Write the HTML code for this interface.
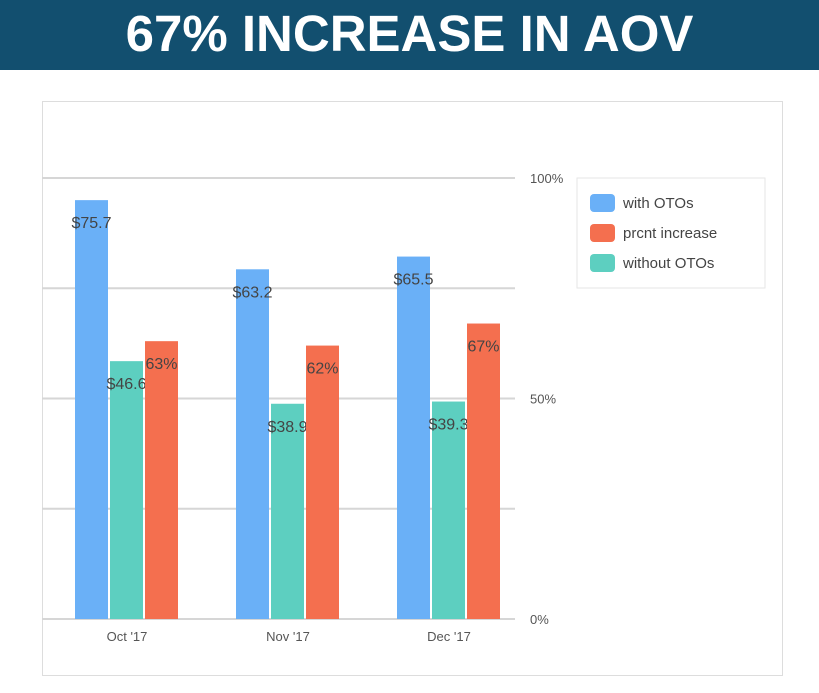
<!DOCTYPE html>
<html><head><meta charset="utf-8"><style>
body{margin:0;width:819px;height:693px;background:#fff;font-family:"Liberation Sans",sans-serif;overflow:hidden}
#hdr{position:absolute;left:0;top:0;width:819px;height:70px;background:#124f6f;color:#fff;font-weight:bold;font-size:51px;text-align:center;line-height:68px}
#panel{position:absolute;left:42px;top:101px;width:741px;height:575px;border:1px solid #ddd;box-sizing:border-box}
svg{position:absolute;left:0;top:0}
</style></head><body>
<div id="hdr">67% INCREASE IN AOV</div>
<div id="panel"></div>
<svg id="chart" width="819" height="693"></svg>
<script>
const categories=["Oct '17","Nov '17","Dec '17"];
const withOTOs=[75.7,63.2,65.5];
const withoutOTOs=[46.6,38.9,39.3];
const prcntIncrease=[63,62,67];
const pctTicks=["0%","50%","100%"];
const pctTickVals=[0,50,100];
const NS="http://www.w3.org/2000/svg";
const svg=document.getElementById('chart');
const y0=619,y100=178,dollarMax=79.7;
const yPct=v=>y0-(y0-y100)*v/100;
const yDol=v=>y0-(y0-y100)*v/dollarMax;
const groupX=i=>75+i*161;
function mk(t,a){const e=document.createElementNS(NS,t);for(const k in a)e.setAttribute(k,a[k]);svg.appendChild(e);return e;}
for(let k=0;k<=4;k++){const g=mk('line',{x1:42,x2:515,y1:yPct(k*25),y2:yPct(k*25),stroke:'#d6d6d6','stroke-width':2});

}
pctTickVals.forEach((v,i)=>{const t=mk('text',{x:530,y:yPct(v)+5,'font-size':13,fill:'#555'});t.textContent=pctTicks[i];

});
const w=33;
function bar(x,top,color,label,name){
const r=mk('rect',{x:x,y:top,width:w,height:y0-top,fill:color});


const t=mk('text',{x:x+w/2,y:top+28,'font-size':16,fill:'#444','text-anchor':'middle'});t.textContent=label;

}
categories.forEach((c,i)=>{const gx=groupX(i);
bar(gx,yDol(withOTOs[i]),'#6ab0f7','$'+withOTOs[i],'bar-with-otos');
bar(gx+35,yDol(withoutOTOs[i]),'#5dcfc0','$'+withoutOTOs[i],'bar-without-otos');
bar(gx+70,yPct(prcntIncrease[i]),'#f46f4f',prcntIncrease[i]+'%','bar-prcnt-increase');
const t=mk('text',{x:gx+52,y:641,'font-size':13,fill:'#555','text-anchor':'middle'});t.textContent=c;

});
const lg=mk('rect',{x:577,y:178,width:188,height:110,fill:'#fff',stroke:'#e6e6e6'});


[['with OTOs','#6ab0f7'],['prcnt increase','#f46f4f'],['without OTOs','#5dcfc0']].forEach((e,i)=>{
const s=mk('rect',{x:590,y:194+i*30,width:25,height:18,rx:4,fill:e[1]});


const t=mk('text',{x:623,y:208+i*30,'font-size':15,fill:'#444'});t.textContent=e[0];

});
</script>
</body></html>
